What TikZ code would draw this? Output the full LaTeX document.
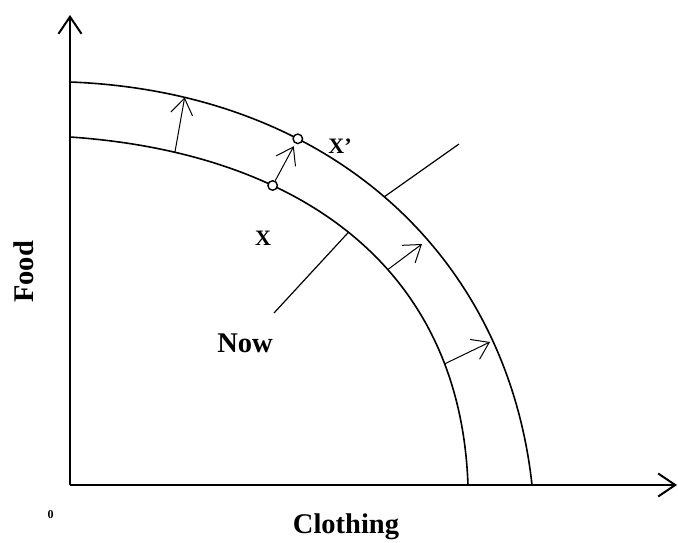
\documentclass[tikz,border=0pt]{standalone}
\usepackage{fontspec}
\setmainfont{Liberation Serif}
\usetikzlibrary{arrows.meta}
\begin{document}
\begin{tikzpicture}[x=1pt,y=-1pt,
 axis/.style={line width=2pt, -{Straight Barb[length=17pt,width=23pt]}},
 ppf/.style={line width=1.6pt},
 shiftarrow/.style={line width=1pt, -{Straight Barb[length=16pt,width=22pt]}},
 pointer/.style={line width=1.2pt},
 dot/.style={circle, draw, fill=white, inner sep=0pt, minimum size=9.5pt, line width=1.4pt},
 lbl/.style={font=\bfseries\fontsize{28.5}{30}\selectfont, inner sep=0pt},
 ptlbl/.style={font=\bfseries\fontsize{22}{24}\selectfont, inner sep=0pt},
]
\useasboundingbox (0,0) rectangle (678,543);

% axes
\coordinate (O) at (70,485);
\coordinate (Ytop) at (70,15);
\coordinate (Xend) at (677,485);
\draw[axis] (O) -- (Ytop);
\draw[axis] (O) -- (Xend);

% production possibility curves (points on them named for the connectors)
\draw[ppf] (70,137) .. controls (290,152) and (460,260) .. (468,485)
  coordinate[pos=0.166] (a1s)
  coordinate[pos=0.34] (Xc)
  coordinate[pos=0.5] (nowS)
  coordinate[pos=0.6] (a3s)
  coordinate[pos=0.8] (a4s);
\draw[ppf] (70,82) .. controls (330,92) and (507,255) .. (532,485)
  coordinate[pos=0.155] (a1e)
  coordinate[pos=0.33] (Xpc)
  coordinate[pos=0.49] (xpS);

% free ends
\coordinate (a3e) at (422,244);
\coordinate (a4e) at (490,342);
\coordinate (nowE) at (274,313);
\coordinate (xpE) at (459,144);

% shift arrows
\draw[shiftarrow] (a1s) -- (a1e);
\draw[shiftarrow] (a3s) -- (a3e);
\draw[shiftarrow] (a4s) -- (a4e);

% pointer lines
\draw[pointer] (nowS) -- (nowE);
\draw[pointer] (xpS) -- (xpE);

% points X and X'
\node[dot] (X) at (Xc) {};
\node[dot] (Xp) at (Xpc) {};
\draw[shiftarrow, shorten >=3pt] (X) -- (Xp);

% labels
\node[ptlbl] (xl) at (263,238) {X};
\node[ptlbl] (xpl) at (340,146) {X’};
\node[lbl] (now) at (245,343) {Now};
\node[lbl, anchor=base] (cloth) at (346,533) {Clothing};
\node[lbl, rotate=90, anchor=base] (food) at (33,272) {Food};
\node[font=\bfseries\fontsize{12}{13}\selectfont, inner sep=0pt, anchor=base] (zero) at (50.5,518) {0};
\end{tikzpicture}
\end{document}
